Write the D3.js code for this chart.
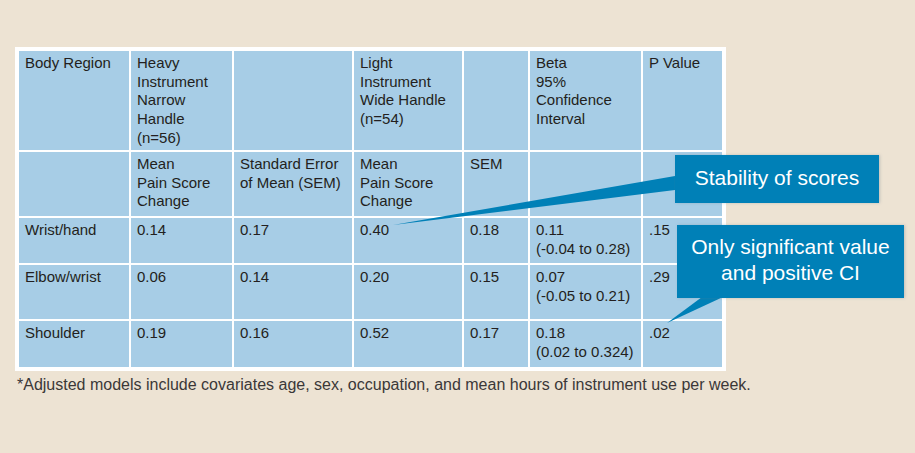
<!DOCTYPE html>
<html>
<head>
<meta charset="utf-8">
<script src="https://cdn.jsdelivr.net/npm/d3@7"></script>
<style>
  html, body { margin: 0; padding: 0; background: #ede3d3; }
  svg { display: block; }
  text { font-family: "Liberation Sans", Arial, sans-serif; }
</style>
</head>
<body>
<svg id="chart"></svg>
<script>
const width = 915;
const height = 453;

// table content
const headerTop = ["Body Region", "Heavy\nInstrument\nNarrow\nHandle\n(n=56)", "", "Light\nInstrument\nWide Handle\n(n=54)", "", "Beta\n95%\nConfidence\nInterval", "P Value"];
const headerSub = ["", "Mean\nPain Score\nChange", "Standard Error\nof Mean (SEM)", "Mean\nPain Score\nChange", "SEM", "", ""];
const regions = ["Wrist/hand", "Elbow/wrist", "Shoulder"];
const heavyMean = [0.14, 0.06, 0.19];
const heavySem = [0.17, 0.14, 0.16];
const lightMean = [0.40, 0.20, 0.52];
const lightSem = [0.18, 0.15, 0.17];
const beta = [0.11, 0.07, 0.18];
const ciLow = [-0.04, -0.05, 0.02];
const ciHigh = [0.28, 0.21, 0.324];
const pValues = [".15", ".29", ".02"];
const footnote = "*Adjusted models include covariates age, sex, occupation, and mean hours of instrument use per week.";
const callouts = ["Stability of scores", "Only significant value\nand positive CI"];

// layout: cell edges
const colEdges = [19, 131, 234, 354, 464, 530, 643, 724];
const rowEdges = [51, 152, 218, 265, 321, 369];
const gap = 2;

const locale = d3.formatLocale({decimal: ".", thousands: ",", grouping: [3], currency: ["", ""], minus: "-"});
// two decimals unless the value carries a third one (0.324)
const fmt = v => locale.format(Math.round(v * 1000) % 10 ? ".3f" : ".2f")(v);

const rows = [headerTop, headerSub].concat(regions.map((r, i) => [
  r,
  fmt(heavyMean[i]),
  fmt(heavySem[i]),
  fmt(lightMean[i]),
  fmt(lightSem[i]),
  fmt(beta[i]) + "\n(" + fmt(ciLow[i]) + " to " + fmt(ciHigh[i]) + ")",
  pValues[i]
]));

const x = d3.scaleOrdinal().domain(d3.range(colEdges.length)).range(colEdges);
const y = d3.scaleOrdinal().domain(d3.range(rowEdges.length)).range(rowEdges);

const svg = d3.select("#chart")
  .attr("width", width)
  .attr("height", height)
  .attr("viewBox", [0, 0, width, height]);

svg.append("rect")
  .attr("width", width).attr("height", height)
  .attr("fill", "#ede3d3");

// white frame behind cells
svg.append("rect")
  .attr("x", x(0) - 4).attr("y", y(0) - 4)
  .attr("width", x(colEdges.length - 1) - x(0) + 6)
  .attr("height", y(rowEdges.length - 1) - y(0) + 6)
  .attr("fill", "#fff");

const cells = rows.flatMap((row, r) => row.map((t, c) => ({r, c, t})));

const cell = svg.append("g")
  .selectAll("g")
  .data(cells)
  .join("g")
    .attr("transform", d => `translate(${x(d.c)},${y(d.r)})`);

cell.append("rect")
  .attr("width", d => x(d.c + 1) - x(d.c) - gap)
  .attr("height", d => y(d.r + 1) - y(d.r) - gap)
  .attr("fill", "#a7cde6");

cell.append("text")
  .attr("x", 6)
  .attr("y", 17)
  .attr("font-size", 15)
  .attr("fill", "#231f20")
  .selectAll("tspan")
  .data(d => d.t.split("\n"))
  .join("tspan")
    .attr("x", 6)
    .attr("dy", (d, i) => i ? 18.7 : 0)
    .text(d => d);

// footnote
svg.append("text")
  .attr("x", 17)
  .attr("y", 390)
  .attr("font-size", 16)
  .attr("fill", "#3b3838")
  .text(footnote);

// callouts
const defs = svg.append("defs");
defs.append("filter").attr("id", "shadow")
  .attr("x", "-10%").attr("y", "-20%").attr("width", "120%").attr("height", "140%")
  .append("feDropShadow")
    .attr("dx", 1).attr("dy", 0).attr("stdDeviation", 1.5)
    .attr("flood-color", "#6a7d88").attr("flood-opacity", 0.35);

const calloutBoxes = [
  {x: 675, y: 155, w: 204, h: 48, tip: [[675, 176], [675, 190], [393, 225]], ty: 185, lh: 0},
  {x: 677, y: 225, w: 227, h: 73, tip: [[702, 297], [723, 297], [667, 323]], ty: 254, lh: 25.5}
];

const call = svg.append("g")
  .selectAll("g")
  .data(calloutBoxes.map((b, i) => Object.assign({label: callouts[i]}, b)))
  .join("g");

call.append("path")
  .attr("d", d => d3.line()(d.tip) + "Z")
  .attr("fill", "#0080b7");

call.append("rect")
  .attr("x", d => d.x).attr("y", d => d.y)
  .attr("width", d => d.w).attr("height", d => d.h)
  .attr("fill", "#0080b7")
  .attr("filter", "url(#shadow)");

call.append("text")
  .attr("text-anchor", "middle")
  .attr("font-size", 21)
  .attr("fill", "#fff")
  .selectAll("tspan")
  .data(d => d.label.split("\n").map((s, i) => ({s, i, d})))
  .join("tspan")
    .attr("x", t => t.d.x + t.d.w / 2)
    .attr("y", t => t.d.ty + t.i * t.d.lh)
    .text(t => t.s);
</script>
</body>
</html>
